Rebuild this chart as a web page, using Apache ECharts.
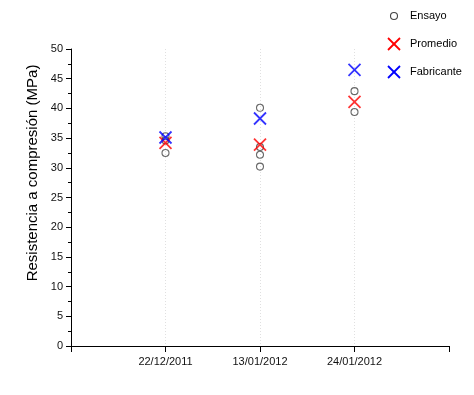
<!DOCTYPE html>
<html>
<head>
<meta charset="utf-8">
<script src="https://cdn.jsdelivr.net/npm/echarts@6/dist/echarts.min.js"></script>
<style>html,body{margin:0;padding:0;background:#fff}#c{width:474px;height:395px}</style>
</head>
<body>
<div id="c"></div>
<script>
var categories = ['22/12/2011', '13/01/2012', '24/01/2012'];
var ensayo = [[1, 32.5], [1, 34.6], [1, 35.3], [2, 40.1], [2, 33.5], [2, 32.2], [2, 30.2], [3, 42.9], [3, 39.4]];
var promedio = [34.2, 33.9, 41.1];
var fabricante = [35.1, 38.3, 46.5];
var yTicks = [0, 5, 10, 15, 20, 25, 30, 35, 40, 45, 50];

var FONT = '"Liberation Sans", Arial, sans-serif';
var XPATH = 'path://M0,0L10,10M10,0L0,10';

var chart = echarts.init(document.getElementById('c'), null, {renderer: 'canvas'});
chart.setOption({
  animation: false,
  backgroundColor: '#fff',
  grid: {left: 71, right: 25, top: 49, bottom: 49, containLabel: false},
  xAxis: {
    type: 'value', min: 0, max: 4, interval: 1,
    axisLine: {show: true, lineStyle: {color: '#000', width: 1}},
    axisTick: {show: true, length: 6, inside: false, lineStyle: {color: '#000'}},
    axisLabel: {
      color: '#111', fontSize: 11, fontFamily: FONT, margin: 10,
      formatter: function (v) { return categories[v - 1] || ''; }
    },
    splitLine: {show: true, lineStyle: {type: [1, 2], color: ['transparent', '#e0e0e0', '#e0e0e0', '#e0e0e0', 'transparent'], width: 1}}
  },
  yAxis: {
    type: 'value', min: yTicks[0], max: yTicks[yTicks.length - 1], interval: 5,
    axisLine: {show: true, lineStyle: {color: '#000', width: 1}},
    axisTick: {show: true, length: 5, lineStyle: {color: '#000'}},
    minorTick: {show: true, splitNumber: 2, length: 3, lineStyle: {color: '#000'}},
    axisLabel: {color: '#111', fontSize: 11, fontFamily: FONT, margin: 8},
    splitLine: {show: false}
  },
  series: [
    {
      name: 'Ensayo', type: 'scatter', data: ensayo,
      symbol: 'circle', symbolSize: 7,
      itemStyle: {color: 'transparent', borderColor: '#444', borderWidth: 1.1}, z: 1
    },
    {
      name: 'Promedio', type: 'scatter',
      data: promedio.map(function (v, i) { return [i + 1, v]; }),
      symbol: XPATH, symbolSize: 12,
      itemStyle: {color: 'transparent', borderColor: '#ff0000', borderWidth: 1.8}, z: 2
    },
    {
      name: 'Fabricante', type: 'scatter',
      data: fabricante.map(function (v, i) { return [i + 1, v]; }),
      symbol: XPATH, symbolSize: 12,
      itemStyle: {color: 'transparent', borderColor: '#0000ff', borderWidth: 1.8}, z: 3
    }
  ],
  graphic: [
    {type: 'text', x: 33, y: 173, rotation: Math.PI / 2,
     style: {text: 'Resistencia a compresión (MPa)', fill: '#000', font: '15px ' + FONT, align: 'center', verticalAlign: 'middle'}},
    {type: 'circle', shape: {cx: 394, cy: 16, r: 3.5}, style: {fill: 'none', stroke: '#444', lineWidth: 1.1}},
    {type: 'text', x: 410, y: 16, style: {text: 'Ensayo', fill: '#000', font: '11px ' + FONT, verticalAlign: 'middle'}},
    {type: 'polyline', shape: {points: [[388, 38], [400, 50]]}, style: {stroke: '#ff0000', lineWidth: 1.8}},
    {type: 'polyline', shape: {points: [[400, 38], [388, 50]]}, style: {stroke: '#ff0000', lineWidth: 1.8}},
    {type: 'text', x: 410, y: 44, style: {text: 'Promedio', fill: '#000', font: '11px ' + FONT, verticalAlign: 'middle'}},
    {type: 'polyline', shape: {points: [[388, 66], [400, 78]]}, style: {stroke: '#0000ff', lineWidth: 1.8}},
    {type: 'polyline', shape: {points: [[400, 66], [388, 78]]}, style: {stroke: '#0000ff', lineWidth: 1.8}},
    {type: 'text', x: 410, y: 72, style: {text: 'Fabricante', fill: '#000', font: '11px ' + FONT, verticalAlign: 'middle'}}
  ]
});
</script>
</body>
</html>
